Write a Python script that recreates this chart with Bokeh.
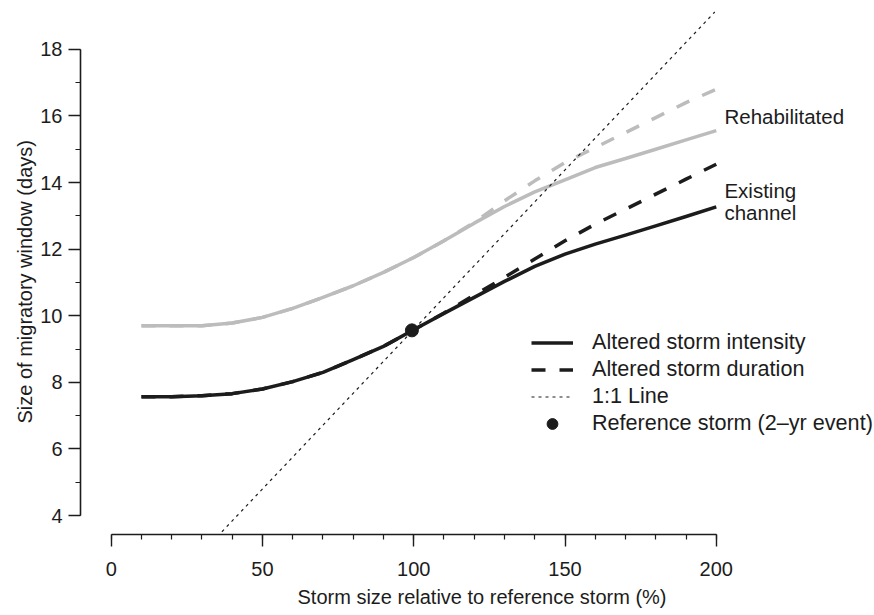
import math
from bokeh.plotting import figure
from bokeh.models import (LinearAxis, SingleIntervalTicker, Range1d, Legend,
                          LegendItem, Title)
from bokeh.embed import file_html
from bokeh.resources import INLINE
from bokeh.core.properties import value

# ---------------- data ----------------
storm_pct = [10, 20, 30, 40, 50, 60, 70, 80, 90, 100,
             110, 120, 130, 140, 150, 160, 170, 180, 190, 200]

existing_intensity = [7.57, 7.57, 7.60, 7.66, 7.80, 8.02, 8.30, 8.68, 9.08, 9.58,
                      10.07, 10.55, 11.03, 11.48, 11.85, 12.15, 12.42, 12.70, 12.98, 13.27]
existing_duration = [7.57, 7.57, 7.60, 7.66, 7.80, 8.02, 8.30, 8.68, 9.08, 9.58,
                     10.08, 10.62, 11.15, 11.70, 12.25, 12.75, 13.20, 13.65, 14.10, 14.55]
rehab_intensity = [9.70, 9.70, 9.70, 9.78, 9.95, 10.22, 10.55, 10.90, 11.30, 11.75,
                   12.25, 12.78, 13.28, 13.72, 14.08, 14.45, 14.72, 15.00, 15.28, 15.56]
rehab_duration = [9.70, 9.70, 9.70, 9.78, 9.95, 10.22, 10.55, 10.90, 11.30, 11.75,
                  12.25, 12.80, 13.45, 14.05, 14.60, 15.05, 15.50, 15.95, 16.40, 16.80]

one_to_one_x = [35.0, 199.5]
one_to_one_y = [3.36, 19.12]

reference_x = [99.4]
reference_y = [9.56]

legend_labels = ["Altered storm intensity", "Altered storm duration",
                 "1:1 Line", "Reference storm (2\u2013yr event)"]
curve_labels = ["Rehabilitated", "Existing", "channel"]
curve_label_x = [202.7, 202.7, 202.7]
curve_label_y = [15.98, 13.75, 13.10]

x_title = "Storm size relative to reference storm (%)"
y_title = "Size of migratory window (days)"

# ---------------- styling ----------------
FONT = "Liberation Sans"
INK = "#1c1c1c"
GRAY = "#bcbcbc"

p = figure(width=874, height=615, output_backend="svg", toolbar_location=None,
           x_range=Range1d(-10.15, 252.3), y_range=Range1d(3.43, 19.466),
           x_axis_location=None, y_axis_location=None,
           min_border_left=80, min_border_right=0,
           min_border_top=0, min_border_bottom=81)
p.outline_line_color = None
p.background_fill_color = "white"
for g in p.grid:
    g.visible = False

xaxis = LinearAxis(bounds=(0, 200),
                   ticker=SingleIntervalTicker(interval=50, num_minor_ticks=5))
yaxis = LinearAxis(bounds=(4, 18),
                   ticker=SingleIntervalTicker(interval=2, num_minor_ticks=2))
for ax in (xaxis, yaxis):
    ax.axis_line_color = INK
    ax.axis_line_width = 1.6
    ax.major_tick_line_color = INK
    ax.major_tick_line_width = 1.4
    ax.minor_tick_line_color = INK
    ax.minor_tick_line_width = 1.2
    ax.major_tick_out = 12
    ax.major_tick_in = 0
    ax.minor_tick_out = 5
    ax.minor_tick_in = 0
    ax.major_label_text_font = FONT
    ax.major_label_text_font_size = "20px"
    ax.major_label_text_color = INK
xaxis.major_label_standoff = 15
yaxis.major_label_standoff = 6
p.add_layout(xaxis, "below")
p.add_layout(yaxis, "left")

p.add_layout(Title(text=x_title, align="left", offset=217, standoff=10,
                   text_font=FONT, text_font_size="20px", text_font_style="normal",
                   text_color=INK), "below")
p.add_layout(Title(text=y_title, align="left", offset=111, standoff=4,
                   text_font=FONT, text_font_size="20px", text_font_style="normal",
                   text_color=INK), "left")

# curves
dash = "14 14"
p.line(storm_pct, rehab_intensity, line_color=GRAY, line_width=3.5, line_join="round")
p.line(storm_pct, rehab_duration, line_color=GRAY, line_width=3.5, line_dash=dash)
r_int = p.line(storm_pct, existing_intensity, line_color=INK, line_width=3.5, line_join="round")
r_dur = p.line(storm_pct, existing_duration, line_color=INK, line_width=3.5, line_dash=dash)
r_one = p.line(one_to_one_x, one_to_one_y, line_color=INK, line_width=1.2, line_dash="3 4")
r_ref = p.scatter(reference_x, reference_y, size=13, fill_color=INK, line_color=INK)

p.text(x=curve_label_x, y=curve_label_y, text=curve_labels,
       text_font=value(FONT), text_font_size="20.5px", text_color=INK,
       text_align="left", text_baseline="middle")

legend = Legend(items=[LegendItem(label=legend_labels[0], renderers=[r_int]),
                       LegendItem(label=legend_labels[1], renderers=[r_dur]),
                       LegendItem(label=legend_labels[2], renderers=[r_one]),
                       LegendItem(label=legend_labels[3], renderers=[r_ref])],
                location=(451, 97.2), orientation="vertical",
                padding=0, margin=0, spacing=0,
                glyph_width=42, glyph_height=27, label_height=27,
                label_standoff=19, label_text_font=FONT,
                label_text_font_size="21.6px", label_text_color=INK,
                background_fill_alpha=0, border_line_color=None)
p.add_layout(legend)

open("out.html", "w").write(file_html(p, INLINE))
